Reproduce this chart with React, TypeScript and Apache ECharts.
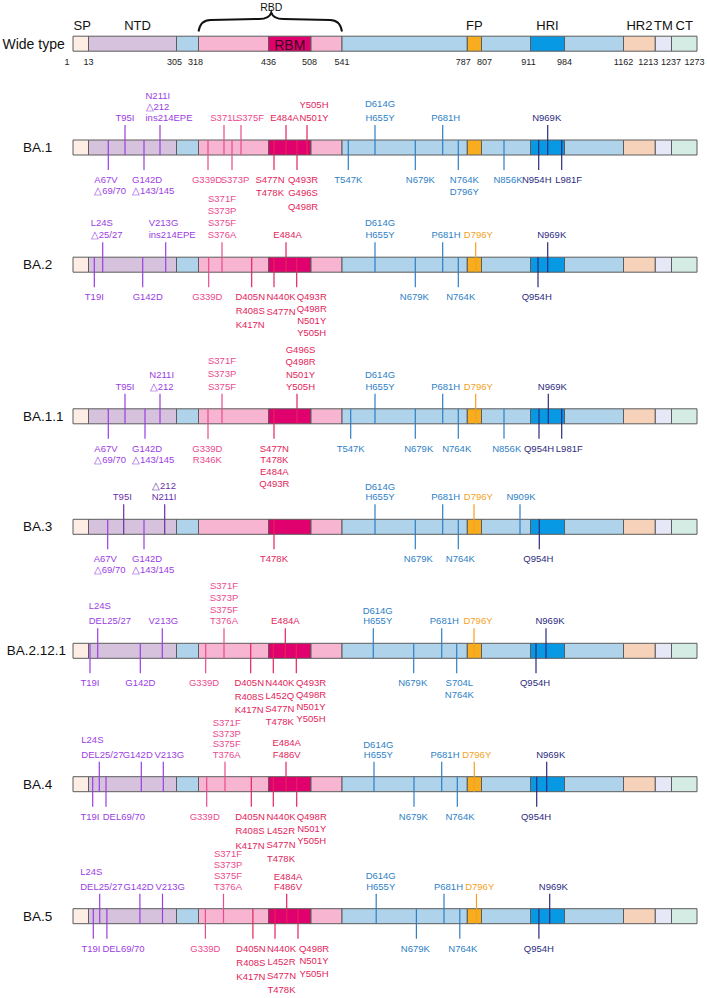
import React, { useEffect, useRef } from 'react';
import * as echarts from 'echarts';

// ---------------- data ----------------
const VARIANTS = ['BA.1', 'BA.2', 'BA.1.1', 'BA.3', 'BA.2.12.1', 'BA.4', 'BA.5'];
const WILD_LABEL = 'Wide type';
const DOMAIN_NAMES = ['SP', 'NTD', '', 'RBD', 'RBM', 'RBD', '', 'FP', '', 'HRI', '', 'HR2', 'TM', 'CT'];
const BOUNDARY_RESIDUES = [1, 13, 305, 318, 436, 508, 541, 787, 807, 911, 984, 1162, 1213, 1237, 1273];
const RBD_LABEL = 'RBD';

type Mut = { x: number; t: string[]; dx?: number; al?: 'left' | 'center'; lh?: number; c?: string };

// x = drawn position on the schematic, t = stacked labels
const BA1_UP: Mut[] = [
  { x: 125, t: ['T95I'] },
  { x: 160, t: ['N211I', '△212', 'ins214EPE'], dx: -14.5, al: 'left', lh: 11 },
  { x: 224, t: ['S371L'] },
  { x: 241, t: ['S375F'], dx: 9 },
  { x: 286, t: ['E484A'], dx: -1.5 },
  { x: 307, t: ['Y505H', 'N501Y'], dx: 7, lh: 12.7 },
  { x: 375, t: ['D614G', 'H655Y'], dx: 5, lh: 14 },
  { x: 442.7, t: ['P681H'], dx: 3 },
  { x: 547.7, t: ['N969K'], dx: -1 },
];
const BA1_DOWN: Mut[] = [
  { x: 108.3, t: ['A67V', '△69/70'], dx: -14, al: 'left', lh: 11 },
  { x: 144, t: ['G142D', '△143/145'], dx: -12, al: 'left', lh: 11 },
  { x: 208, t: ['G339D'], dx: -1 },
  { x: 232, t: ['S373P'], dx: 3 },
  { x: 274, t: ['S477N', 'T478K'], dx: -4, lh: 13 },
  { x: 297, t: ['Q493R', 'G496S', 'Q498R'], dx: 6, lh: 13.3 },
  { x: 348.3, t: ['T547K'] },
  { x: 415.3, t: ['N679K'], dx: 5 },
  { x: 458.3, t: ['N764K', 'D796Y'], dx: 6, lh: 12 },
  { x: 504, t: ['N856K'], dx: 4 },
  { x: 538.7, t: ['N954H'], dx: -2 },
  { x: 561.7, t: ['L981F'], dx: 7 },
];

const BA2_UP: Mut[] = [
  { x: 102.7, t: ['L24S', '△25/27'], dx: -12, al: 'left' },
  { x: 165.7, t: ['V213G', 'ins214EPE'], dx: -17, al: 'left' },
  { x: 222, t: ['S371F', 'S373P', 'S375F', 'S376A'] },
  { x: 286, t: ['E484A'], dx: 1.5 },
  { x: 375, t: ['D614G', 'H655Y'], dx: 5 },
  { x: 442.7, t: ['P681H'], dx: 3.3 },
  { x: 475.7, t: ['D796Y'], dx: 2.6 },
  { x: 547.7, t: ['N969K'], dx: 4 },
];
const BA2_DOWN: Mut[] = [
  { x: 94.3, t: ['T19I'] },
  { x: 142.7, t: ['G142D'], dx: 5 },
  { x: 208.7, t: ['G339D'], dx: -1.4 },
  { x: 251.7, t: ['D405N', 'R408S', 'K417N'], dx: -1.5, lh: 14 },
  { x: 274, t: ['N440K', 'S477N'], dx: 7, lh: 15 },
  { x: 296.7, t: ['Q493R', 'Q498R', 'N501Y', 'Y505H'], dx: 15, lh: 12 },
  { x: 415.3, t: ['N679K'], dx: -1 },
  { x: 458.3, t: ['N764K'], dx: 2.4 },
  { x: 538, t: ['Q954H'], dx: -1.3 },
];

const BA11_UP: Mut[] = [
  { x: 125, t: ['T95I'] },
  { x: 160, t: ['N211I', '△212'], dx: 1.7 },
  { x: 222, t: ['S371F', 'S373P', 'S375F'], lh: 13 },
  { x: 297, t: ['G496S', 'Q498R', 'N501Y', 'Y505H'], dx: 3.5, lh: 12.3 },
  { x: 375, t: ['D614G', 'H655Y'], dx: 5 },
  { x: 442.7, t: ['P681H'], dx: 3 },
  { x: 475.7, t: ['D796Y'], dx: 2.6 },
  { x: 548.3, t: ['N969K'], dx: 4 },
];
const BA11_DOWN: Mut[] = [
  { x: 108.3, t: ['A67V', '△69/70'], dx: -14, al: 'left', lh: 11 },
  { x: 145, t: ['G142D', '△143/145'], dx: -13, al: 'left', lh: 11 },
  { x: 208, t: ['G339D', 'R346K'], dx: -0.7, lh: 11 },
  { x: 274, t: ['S477N', 'T478K', 'E484A', 'Q493R'], dx: 0.3, lh: 11.7 },
  { x: 350.7, t: ['T547K'] },
  { x: 415.3, t: ['N679K'], dx: 3.4 },
  { x: 458.3, t: ['N764K'], dx: -1.6 },
  { x: 504, t: ['N856K'], dx: 2.7 },
  { x: 539, t: ['Q954H'] },
  { x: 561.7, t: ['L981F'], dx: 7.6 },
];

const BA3_UP: Mut[] = [
  { x: 123.7, t: ['T95I'], dx: -1.4, c: '#6a2fa8' },
  { x: 164.7, t: ['△212', 'N211I'], dx: -0.7, lh: 11.6, c: '#6a2fa8' },
  { x: 375, t: ['D614G', 'H655Y'], dx: 5, lh: 10.7 },
  { x: 442.7, t: ['P681H'], dx: 3 },
  { x: 474, t: ['D796Y'], dx: 4.3 },
  { x: 520, t: ['N909K'], dx: 1 },
];
const BA3_DOWN: Mut[] = [
  { x: 107.7, t: ['A67V', '△69/70'], dx: -14, al: 'left', lh: 11 },
  { x: 144, t: ['G142D', '△143/145'], dx: -12, al: 'left', lh: 11 },
  { x: 274, t: ['T478K'] },
  { x: 415.3, t: ['N679K'], dx: 3 },
  { x: 458.3, t: ['N764K'], dx: 2 },
  { x: 539.3, t: ['Q954H'], dx: -1 },
];

const BA2121_UP: Mut[] = [
  { x: 97.7, t: ['L24S', 'DEL25/27'], dx: -9, al: 'left', lh: 15 },
  { x: 162.3, t: ['V213G'], dx: 1 },
  { x: 224, t: ['S371F', 'S373P', 'S375F', 'T376A'], lh: 11.7 },
  { x: 285.3, t: ['E484A'] },
  { x: 373.3, t: ['D614G', 'H655Y'], dx: 4.4, lh: 10 },
  { x: 441.7, t: ['P681H'], dx: 2.6 },
  { x: 474, t: ['D796Y'], dx: 4 },
  { x: 546, t: ['N969K'], dx: 4 },
];
const BA2121_DOWN: Mut[] = [
  { x: 90, t: ['T19I'] },
  { x: 140.3, t: ['G142D'] },
  { x: 205.7, t: ['G339D'], dx: -1.7 },
  { x: 250.7, t: ['D405N', 'R408S', 'K417N'], dx: -1.5, lh: 13.5 },
  { x: 273.3, t: ['N440K', 'L452Q', 'S477N', 'T478K'], dx: 6.5, lh: 13 },
  { x: 296.3, t: ['Q493R', 'Q498R', 'N501Y', 'Y505H'], dx: 14.7, lh: 11.8 },
  { x: 413.7, t: ['N679K'], dx: -1 },
  { x: 456.7, t: ['S704L', 'N764K'], dx: 2.6, lh: 11.6 },
  { x: 536, t: ['Q954H'], dx: -1 },
];

const BA4_UP: Mut[] = [
  { x: 99.3, t: ['L24S', 'DEL25/27'], dx: -18, al: 'left', lh: 15 },
  { x: 141.3, t: ['G142D'], dx: -3.6 },
  { x: 163.3, t: ['V213G'], dx: 6 },
  { x: 225, t: ['S371F', 'S373P', 'S375F', 'T376A'], dx: 1.7, lh: 10.5 },
  { x: 286, t: ['E484A', 'F486V'], dx: 0.7, lh: 11.7 },
  { x: 374, t: ['D614G', 'H655Y'], dx: 4.3, lh: 10 },
  { x: 441.7, t: ['P681H'], dx: 3.3 },
  { x: 474.3, t: ['D796Y'], dx: 2.4 },
  { x: 546.7, t: ['N969K'], dx: 4 },
];
const BA4_DOWN: Mut[] = [
  { x: 92.7, t: ['T19I'], dx: -2.7 },
  { x: 106, t: ['DEL69/70'], dx: -3.3, al: 'left' },
  { x: 206.7, t: ['G339D'], dx: -2 },
  { x: 251.3, t: ['D405N', 'R408S', 'K417N'], dx: -1.3, lh: 14.5 },
  { x: 273.3, t: ['N440K', 'L452R', 'S477N', 'T478K'], dx: 7.7, lh: 14 },
  { x: 296.7, t: ['Q498R', 'N501Y', 'Y505H'], dx: 15, lh: 12 },
  { x: 414, t: ['N679K'], dx: -0.7 },
  { x: 457.3, t: ['N764K'], dx: 2.7 },
  { x: 536.7, t: ['Q954H'], dx: -0.7 },
];

const BA5_UP: Mut[] = [
  { x: 99.7, t: ['L24S', 'DEL25/27'], dx: -19.5, al: 'left', lh: 15 },
  { x: 139.9, t: ['G142D'], dx: -1.4 },
  { x: 162.5, t: ['V213G'], dx: 7.7 },
  { x: 223.5, t: ['S371F', 'S373P', 'S375F', 'T376A'], dx: 4.5, lh: 11 },
  { x: 286.7, t: ['E484A', 'F486V'], dx: 1.3, lh: 10 },
  { x: 376.2, t: ['D614G', 'H655Y'], dx: 4.5, lh: 10.7 },
  { x: 444, t: ['P681H'], dx: 4.5 },
  { x: 476.5, t: ['D796Y'], dx: 3.2 },
  { x: 549.7, t: ['N969K'], dx: 3.7 },
];
const BA5_DOWN: Mut[] = [
  { x: 93.3, t: ['T19I'], dx: -2.3 },
  { x: 106.9, t: ['DEL69/70'], dx: -4.5, al: 'left' },
  { x: 205.4, t: ['G339D'] },
  { x: 252.9, t: ['D405N', 'R408S', 'K417N'], dx: -2, lh: 14 },
  { x: 275, t: ['N440K', 'L452R', 'S477N', 'T478K'], dx: 6.5, lh: 13.7 },
  { x: 298, t: ['Q498R', 'N501Y', 'Y505H'], dx: 16, lh: 12.5 },
  { x: 416.4, t: ['N679K'], dx: -1 },
  { x: 459.8, t: ['N764K'], dx: 3 },
  { x: 538.9, t: ['Q954H'] },
];

const VARIANT_MUTS: Mut[][][] = [
  [BA1_UP, BA1_DOWN],
  [BA2_UP, BA2_DOWN],
  [BA11_UP, BA11_DOWN],
  [BA3_UP, BA3_DOWN],
  [BA2121_UP, BA2121_DOWN],
  [BA4_UP, BA4_DOWN],
  [BA5_UP, BA5_DOWN],
];

// ---------------- layout / style ----------------
const W = 707;
const H = 998;
const BOUNDARY_X = [73, 88.5, 176.5, 198.5, 268.5, 311, 342, 467.3, 481.5, 530.5, 564.5, 623.5, 655.3, 671.5, 697];
const NUM_DX = [-6, 0, -2, -3, 0, -1.5, 0, -4, 3, -2, 0, 0, -7, -0.5, -2.5];
const WILD_Y = 43.7;
const ROW_Y = [147.5, 264.7, 416.3, 526.8, 650.8, 784.2, 916.2];
const HALF = 7.5;
const EXT = 15;
const SEG_COLORS = ['#fdede5', '#d6c2dd', '#aed3ea', '#f7b5d2', '#e0006e', '#f7b5d2', '#aed3ea', '#f8ad1e', '#aed3ea', '#0799e4', '#aed3ea', '#f7d2bb', '#e6e8f7', '#d5ece5'];
const FONT = '"Liberation Sans", Arial, Helvetica, sans-serif';

function colorFor(label: string): string {
  const m = label.match(/\d+/);
  const r = m ? parseInt(m[0], 10) : 0;
  if (r <= 305) return '#9b3de3';
  if (r <= 400) return '#ea4a8e';
  if (r <= 541) return '#e3245b';
  if (r >= 787 && r <= 807) return '#f5a11c';
  if (r >= 912) return '#2c2b7e';
  return '#2e7fc6';
}

type TextItem = { text: string; size: number; color: string; align: string };

export default function App() {
  const ref = useRef<HTMLDivElement>(null);
  useEffect(() => {
    document.body.style.margin = '0';
    if (!ref.current) return;
    const chart = echarts.init(ref.current, undefined, { renderer: 'svg' });

    // domain boxes
    const allRows = [WILD_Y, ...ROW_Y];
    const boxData: number[][] = [];
    allRows.forEach((y) => {
      for (let i = 0; i < SEG_COLORS.length; i++) boxData.push([BOUNDARY_X[i], BOUNDARY_X[i + 1], y, i]);
    });

    // mutations
    const flat: Mut[] = [];
    const mutData: number[][] = [];
    VARIANT_MUTS.forEach((pair, r) => {
      pair.forEach((list, side) => {
        list.forEach((m) => {
          flat.push(m);
          mutData.push([m.x, ROW_Y[r], side === 0 ? 1 : -1, flat.length - 1]);
        });
      });
    });

    // texts
    const texts: TextItem[] = [];
    const textData: number[][] = [];
    const addText = (x: number, y: number, t: TextItem) => {
      texts.push(t);
      textData.push([x, y, texts.length - 1]);
    };
    addText(2.5, WILD_Y, { text: WILD_LABEL, size: 14, color: '#111', align: 'left' });
    VARIANTS.forEach((v, i) => {
      if (v.length > 6) addText(66, ROW_Y[i], { text: v, size: 13.5, color: '#111', align: 'right' });
      else addText(23, ROW_Y[i], { text: v, size: 13.5, color: '#111', align: 'left' });
    });
    DOMAIN_NAMES.forEach((n, i) => {
      if (!n || n === 'RBD') return;
      const cx = (BOUNDARY_X[i] + BOUNDARY_X[i + 1]) / 2;
      if (n === 'RBM') addText(cx, WILD_Y + 1.5, { text: n, size: 14, color: '#3a0720', align: 'center' });
      else addText(cx + (n === 'NTD' ? 5 : n === 'SP' ? 1.5 : 0), 25, { text: n, size: 13, color: '#111', align: 'center' });
    });
    addText((BOUNDARY_X[3] + BOUNDARY_X[6]) / 2 + 1, 7, { text: RBD_LABEL, size: 10.5, color: '#111', align: 'center' });
    BOUNDARY_RESIDUES.forEach((r, i) => {
      addText(BOUNDARY_X[i] + NUM_DX[i], 62, { text: String(r), size: 9, color: '#222', align: 'center' });
    });

    chart.setOption({
      animation: false,
      grid: { left: 0, right: 0, top: 0, bottom: 0 },
      xAxis: { type: 'value', min: 0, max: W, show: false },
      yAxis: { type: 'value', min: 0, max: H, inverse: true, show: false },
      series: [
        {
          type: 'custom',
          z: 1,
          data: boxData,
          renderItem: (_p: any, api: any) => {
            const a = api.coord([api.value(0), api.value(2)]);
            const b = api.coord([api.value(1), api.value(2)]);
            const i = api.value(3);
            return {
              type: 'rect',
              shape: { x: a[0], y: a[1] - HALF, width: b[0] - a[0], height: HALF * 2 },
              style: { fill: SEG_COLORS[i], stroke: '#5c5c5c', lineWidth: 1 },
            };
          },
        },
        {
          type: 'custom',
          z: 3,
          data: mutData,
          renderItem: (_p: any, api: any) => {
            const m = flat[api.value(3)];
            const up = api.value(2) > 0;
            const p = api.coord([api.value(0), api.value(1)]);
            const color = m.c || colorFor(m.t[0]);
            const lh = m.lh ?? 12;
            const y1 = up ? p[1] - HALF - EXT : p[1] - HALF;
            const y2 = up ? p[1] + HALF : p[1] + HALF + EXT;
            const ty = up ? y1 - 7.5 + lh / 2 : y2 + 9.5 - lh / 2;
            return {
              type: 'group',
              children: [
                { type: 'line', shape: { x1: p[0], y1, x2: p[0], y2 }, style: { stroke: color, lineWidth: 1.2 } },
                {
                  type: 'text',
                  x: p[0] + (m.dx || 0),
                  y: ty,
                  style: {
                    text: m.t.join('\n'),
                    fill: color,
                    fontSize: 9.5,
                    fontFamily: FONT,
                    align: m.al || 'center',
                    verticalAlign: up ? 'bottom' : 'top',
                    lineHeight: lh,
                  },
                },
              ],
            };
          },
        },
        {
          type: 'custom',
          z: 4,
          data: [[BOUNDARY_X[3], BOUNDARY_X[6], 31.5, 20, 12.5]],
          renderItem: (_p: any, api: any) => {
            const xl = api.value(0), xr = api.value(1);
            const xm = (xl + xr) / 2 + 1;
            const L = api.coord([xl, api.value(2)]);
            const R = api.coord([xr, api.value(2)]);
            const M = api.coord([xm, api.value(4)]);
            const yMid = api.coord([xm, api.value(3)])[1];
            const r = 12;
            const d = `M${L[0]},${L[1]} Q${L[0] + 2},${yMid} ${L[0] + r},${yMid} L${M[0] - r},${yMid - 1} Q${M[0] - 2},${yMid - 1} ${M[0]},${M[1]} Q${M[0] + 2},${yMid - 1} ${M[0] + r},${yMid - 1} L${R[0] - r},${yMid} Q${R[0] - 2},${yMid} ${R[0]},${R[1]}`;
            return { type: 'path', shape: { pathData: d }, style: { stroke: '#111', fill: 'none', lineWidth: 2 } };
          },
        },
        {
          type: 'custom',
          z: 5,
          data: textData,
          renderItem: (_p: any, api: any) => {
            const t = texts[api.value(2)];
            const p = api.coord([api.value(0), api.value(1)]);
            return {
              type: 'text',
              x: p[0],
              y: p[1],
              style: { text: t.text, fill: t.color, fontSize: t.size, fontFamily: FONT, align: t.align, verticalAlign: 'middle' },
            };
          },
        },
      ],
    });
    return () => chart.dispose();
  }, []);
  return <div ref={ref} style={{ position: 'absolute', left: 0, top: 0, width: W, height: H }} />;
}
